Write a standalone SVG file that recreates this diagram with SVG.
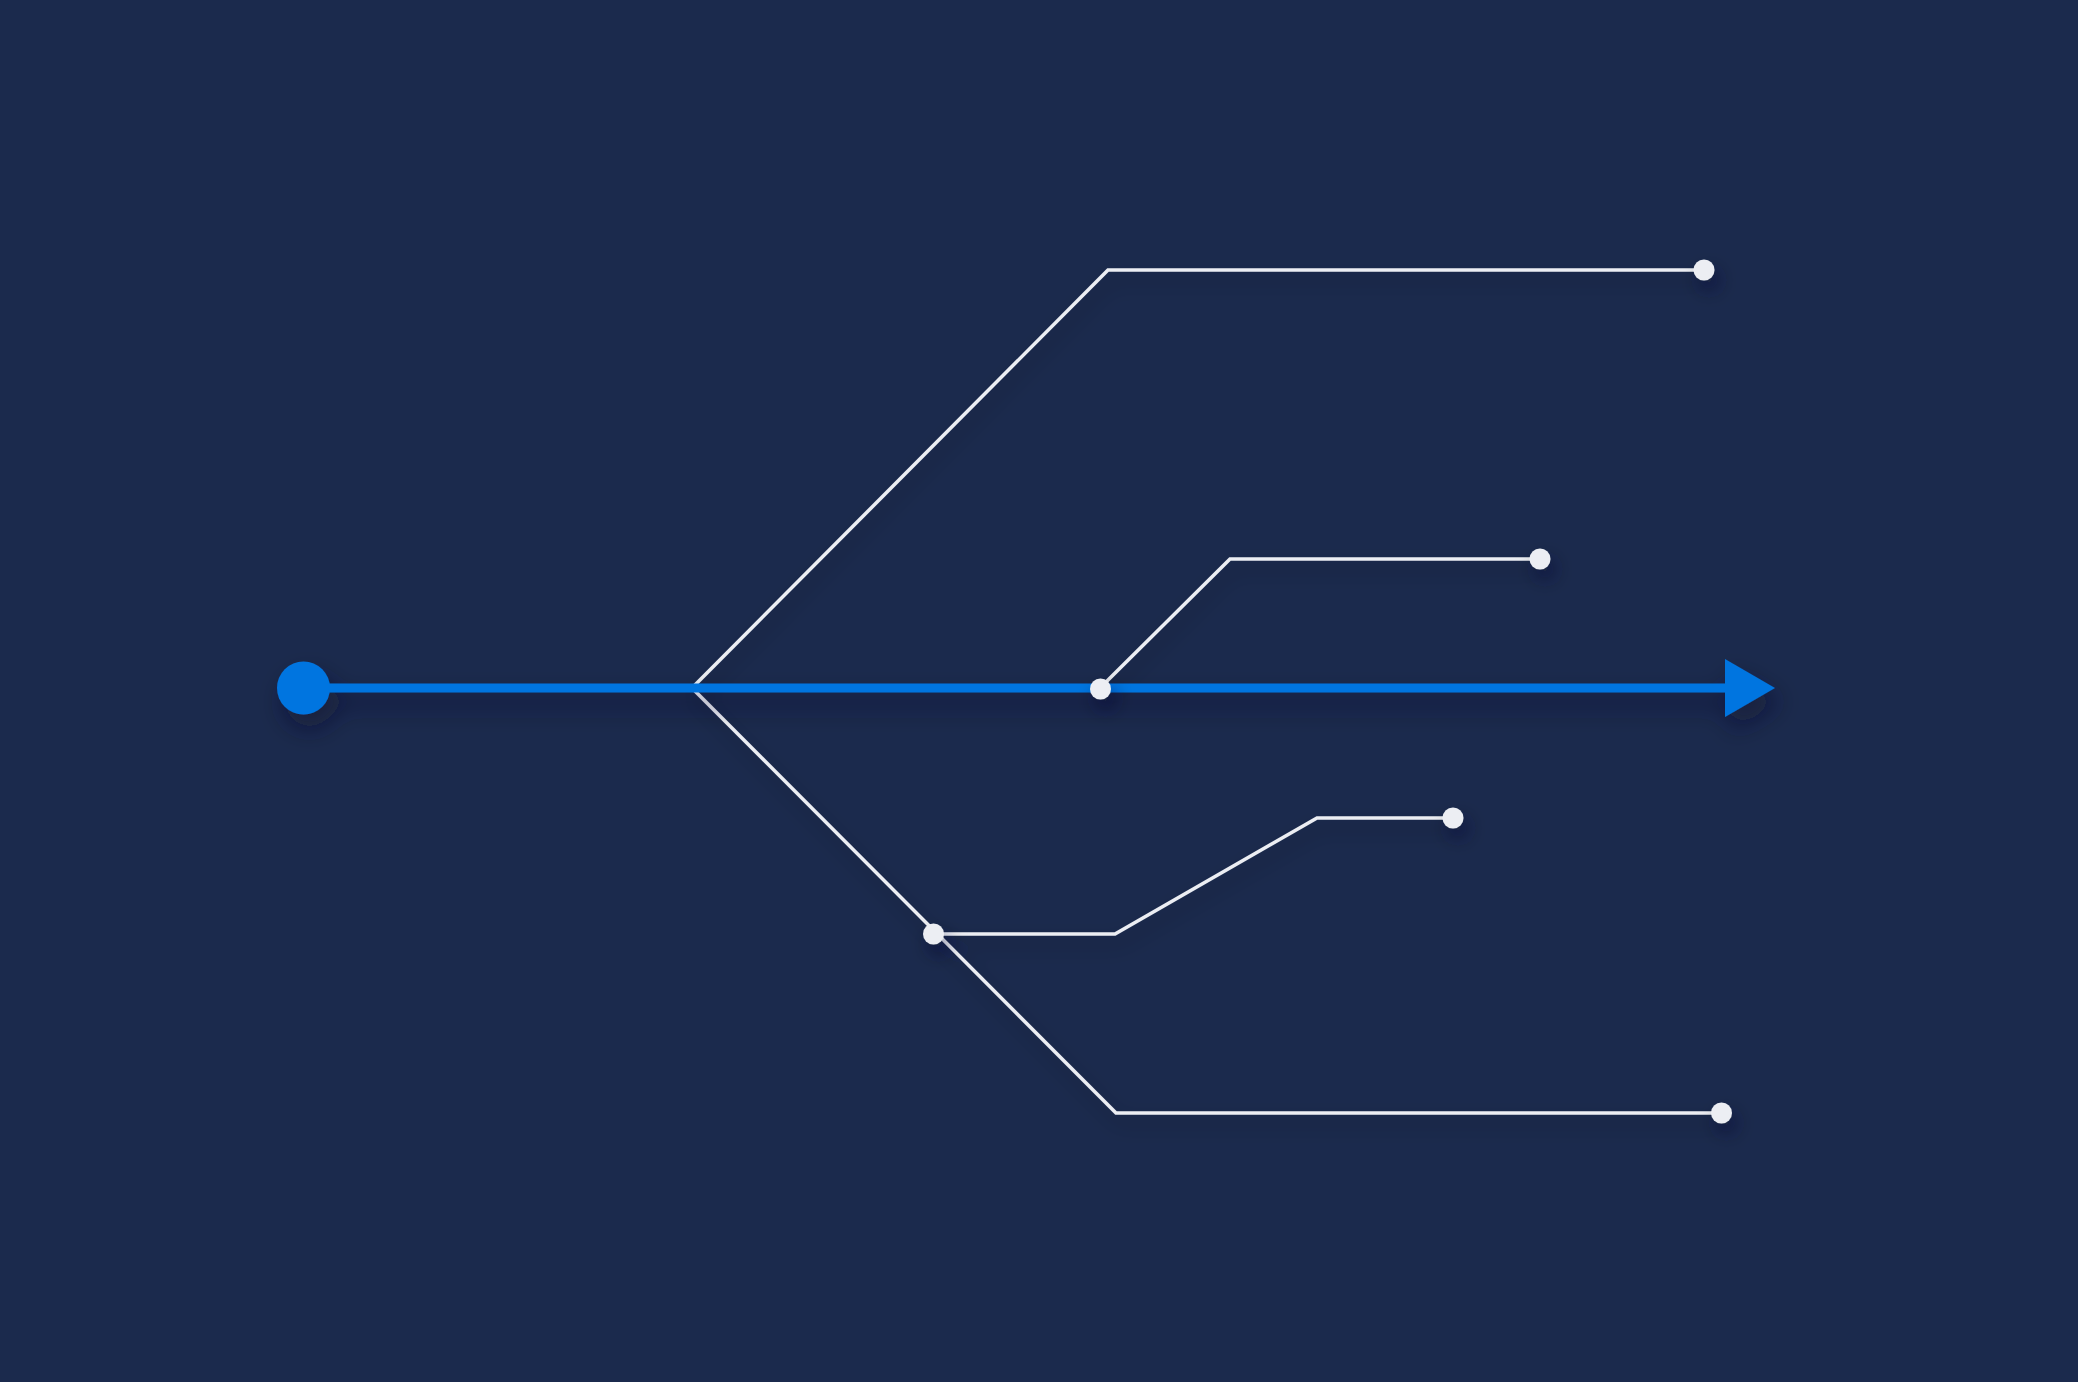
<svg xmlns="http://www.w3.org/2000/svg" width="2078" height="1382" viewBox="0 0 2078 1382">
<defs>
<filter id="sh" x="-20%" y="-100%" width="140%" height="400%">
<feDropShadow dx="6" dy="14" stdDeviation="12" flood-color="#0b1430" flood-opacity="0.55"/>
</filter>
<filter id="shs" x="-200%" y="-200%" width="500%" height="500%">
<feDropShadow dx="5" dy="10" stdDeviation="9" flood-color="#0b1430" flood-opacity="0.5"/>
</filter>
<filter id="shw" x="-10%" y="-10%" width="130%" height="130%">
<feDropShadow dx="4" dy="10" stdDeviation="10" flood-color="#0b1430" flood-opacity="0.35"/>
</filter>
</defs>
<style>
.wire{fill:none;stroke:#eceef3;stroke-width:3.5;stroke-linejoin:miter}
.dot{fill:#eceef3}
.main{stroke:#0075e0;stroke-width:9;fill:none}
.blue{fill:#0075e0}
</style>
<rect width="2078" height="1382" fill="#1b2a4d"/>
<g id="connectors" filter="url(#shw)">
<polyline class="wire" points="692,688 1108,270 1700,270"/>
<polyline class="wire" points="1100,688 1230,559 1536,559"/>
<polyline class="wire" points="692,688 1116,1113 1718,1113"/>
<polyline class="wire" points="933,934 1115,934 1317,818 1450,818"/>
</g>
<g id="main-line" filter="url(#sh)">
<line class="main" x1="303" y1="688" x2="1730" y2="688"/>
<polygon class="blue" points="1725,659 1775,688 1725,717"/>
<circle class="blue" cx="303.5" cy="688" r="26.5"/>
</g>
<g id="node-top" filter="url(#shs)"><circle class="dot" cx="1704" cy="270" r="10.5"/></g>
<g id="node-mid" filter="url(#shs)"><circle class="dot" cx="1540" cy="559" r="10.5"/></g>
<g id="node-junction-main" filter="url(#shs)"><circle class="dot" cx="1100.5" cy="689" r="10.5"/></g>
<g id="node-junction-low" filter="url(#shs)"><circle class="dot" cx="933.5" cy="934" r="10.5"/></g>
<g id="node-lowmid" filter="url(#shs)"><circle class="dot" cx="1453" cy="818" r="10.5"/></g>
<g id="node-bottom" filter="url(#shs)"><circle class="dot" cx="1721.5" cy="1113" r="10.5"/></g>
</svg>
